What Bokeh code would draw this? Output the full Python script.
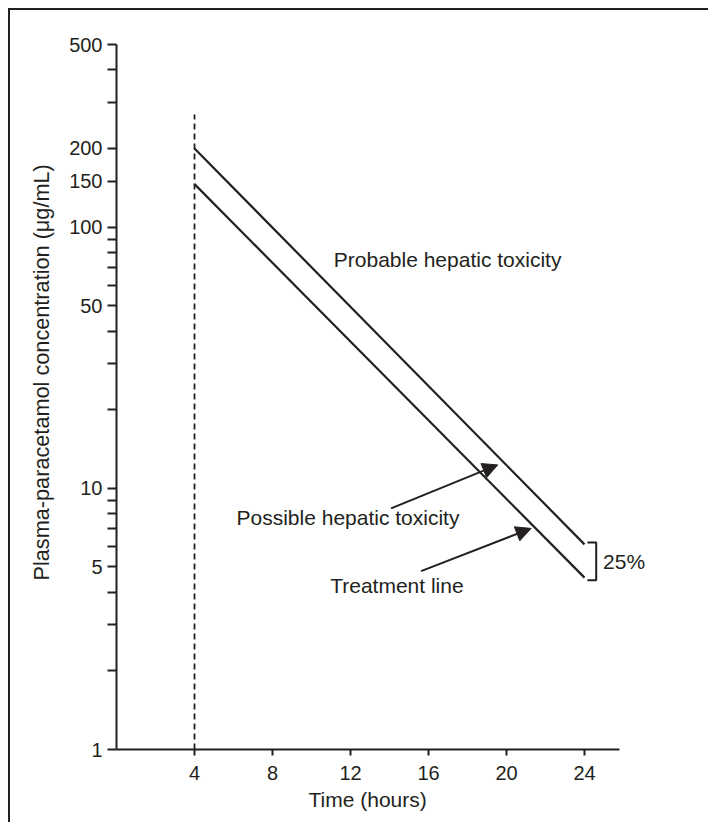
from bokeh.plotting import figure
from bokeh.models import (Range1d, FixedTicker, NumeralTickFormatter, Arrow, NormalHead,
                          Label, ColumnDataSource, Title, Div, Spacer)
from bokeh.layouts import column, row
from bokeh.embed import file_html
from bokeh.resources import INLINE

FONT = "Liberation Sans"
INK = "#231f20"

# ---- data ----
hours = [4, 24]
probable_line = [200, 6.1]        # upper line
treatment_line = [146, 4.55]      # treatment line
cutoff_hours = [4, 4]
cutoff_conc = [1, 270]
x_ticks = [4, 8, 12, 16, 20, 24]
y_major = [1, 5, 10, 50, 100, 150, 200, 500]
y_minor = [2, 3, 4, 6, 7, 8, 9, 20, 30, 40, 60, 70, 80, 90, 300, 400]
bracket_x = [24.15, 24.6, 24.6, 24.15]
bracket_y = [6.2, 6.2, 4.45, 4.45]
label_text = ["Probable hepatic toxicity", "Possible hepatic toxicity", "Treatment line"]
label_x = [16.98, 11.87, 14.38]
label_y = [75.4, 7.73, 4.26]
pct_text = "25%"
pct_x = 24.95
pct_y = 5.26
arrow_x0 = [14.08, 15.62]
arrow_y0 = [8.38, 4.82]
arrow_x1 = [19.55, 21.26]
arrow_y1 = [12.29, 7.02]
x_title = "Time (hours)"
y_title = "Plasma-paracetamol concentration (\u03bcg/mL)"

p = figure(width=698, height=812, frame_width=546, frame_height=705,
           min_border_left=106, min_border_top=34, min_border_right=46, min_border_bottom=73,
           y_axis_type="log", x_range=Range1d(0, 28), y_range=Range1d(1, 500),
           output_backend="svg", toolbar_location=None)
p.grid.visible = False
p.outline_line_color = None
p.background_fill_color = "white"
p.border_fill_color = "white"

# x axis
xa = p.xaxis[0]
xa.ticker = FixedTicker(ticks=x_ticks)
xa.bounds = (0, 25.8)
xa.minor_tick_line_color = None
xa.major_tick_in = 0
xa.major_tick_out = 6
xa.major_label_standoff = 10

# y axis
ya = p.yaxis[0]
ya.ticker = FixedTicker(ticks=y_major, minor_ticks=y_minor)
ya.formatter = NumeralTickFormatter(format="0")
ya.major_tick_in = 0
ya.major_tick_out = 9
ya.minor_tick_in = 0
ya.minor_tick_out = 9
ya.major_label_standoff = 5

for ax in (xa, ya):
    ax.axis_line_width = 2
    ax.axis_line_color = INK
    ax.major_tick_line_width = 2
    ax.major_tick_line_color = INK
    ax.minor_tick_line_width = 2
    ax.major_label_text_font = FONT
    ax.major_label_text_font_size = "20px"
    ax.major_label_text_color = INK
ya.minor_tick_line_color = INK

# axis titles, positioned as in the original figure
p.add_layout(Title(text=x_title, align="left", offset=192, standoff=7,
                   text_font=FONT, text_font_size="21px", text_font_style="normal",
                   text_color=INK), "below")
p.add_layout(Title(text=y_title, align="left", offset=169, standoff=26,
                   text_font=FONT, text_font_size="21.7px", text_font_style="normal",
                   text_color=INK), "left")

# lines
p.line(cutoff_hours, cutoff_conc, line_color=INK, line_width=1.8, line_dash="6 4")
p.line(hours, probable_line, line_color=INK, line_width=2.2)
p.line(hours, treatment_line, line_color=INK, line_width=2.2)
p.line(bracket_x, bracket_y, line_color=INK, line_width=2)

# annotations
for t, x, y in zip(label_text, label_x, label_y):
    p.add_layout(Label(x=x, y=y, text=t, text_align="center", text_baseline="middle",
                       text_font=FONT, text_font_size="21px", text_color=INK))
p.add_layout(Label(x=pct_x, y=pct_y, text=pct_text, text_align="left", text_baseline="middle",
                   text_font=FONT, text_font_size="21px", text_color=INK))

arrow_src = ColumnDataSource(dict(x0=arrow_x0, y0=arrow_y0, x1=arrow_x1, y1=arrow_y1))
p.add_layout(Arrow(end=NormalHead(size=15, fill_color=INK, line_color=INK, line_width=1),
                   x_start="x0", y_start="y0", x_end="x1", y_end="y1", source=arrow_src,
                   line_color=INK, line_width=2))

# page margin and the thin frame line along the left and top edges
bar_top = Div(text="", width=700, height=2, margin=0, styles={"background-color": INK})
bar_left = Div(text="", width=2, height=812, margin=0, styles={"background-color": INK})
page = column(Spacer(height=8, margin=0),
              row(Spacer(width=8, margin=0),
                  column(bar_top, row(bar_left, p, spacing=0), spacing=0),
                  spacing=0),
              spacing=0)

open("out.html", "w").write(file_html(page, INLINE))
